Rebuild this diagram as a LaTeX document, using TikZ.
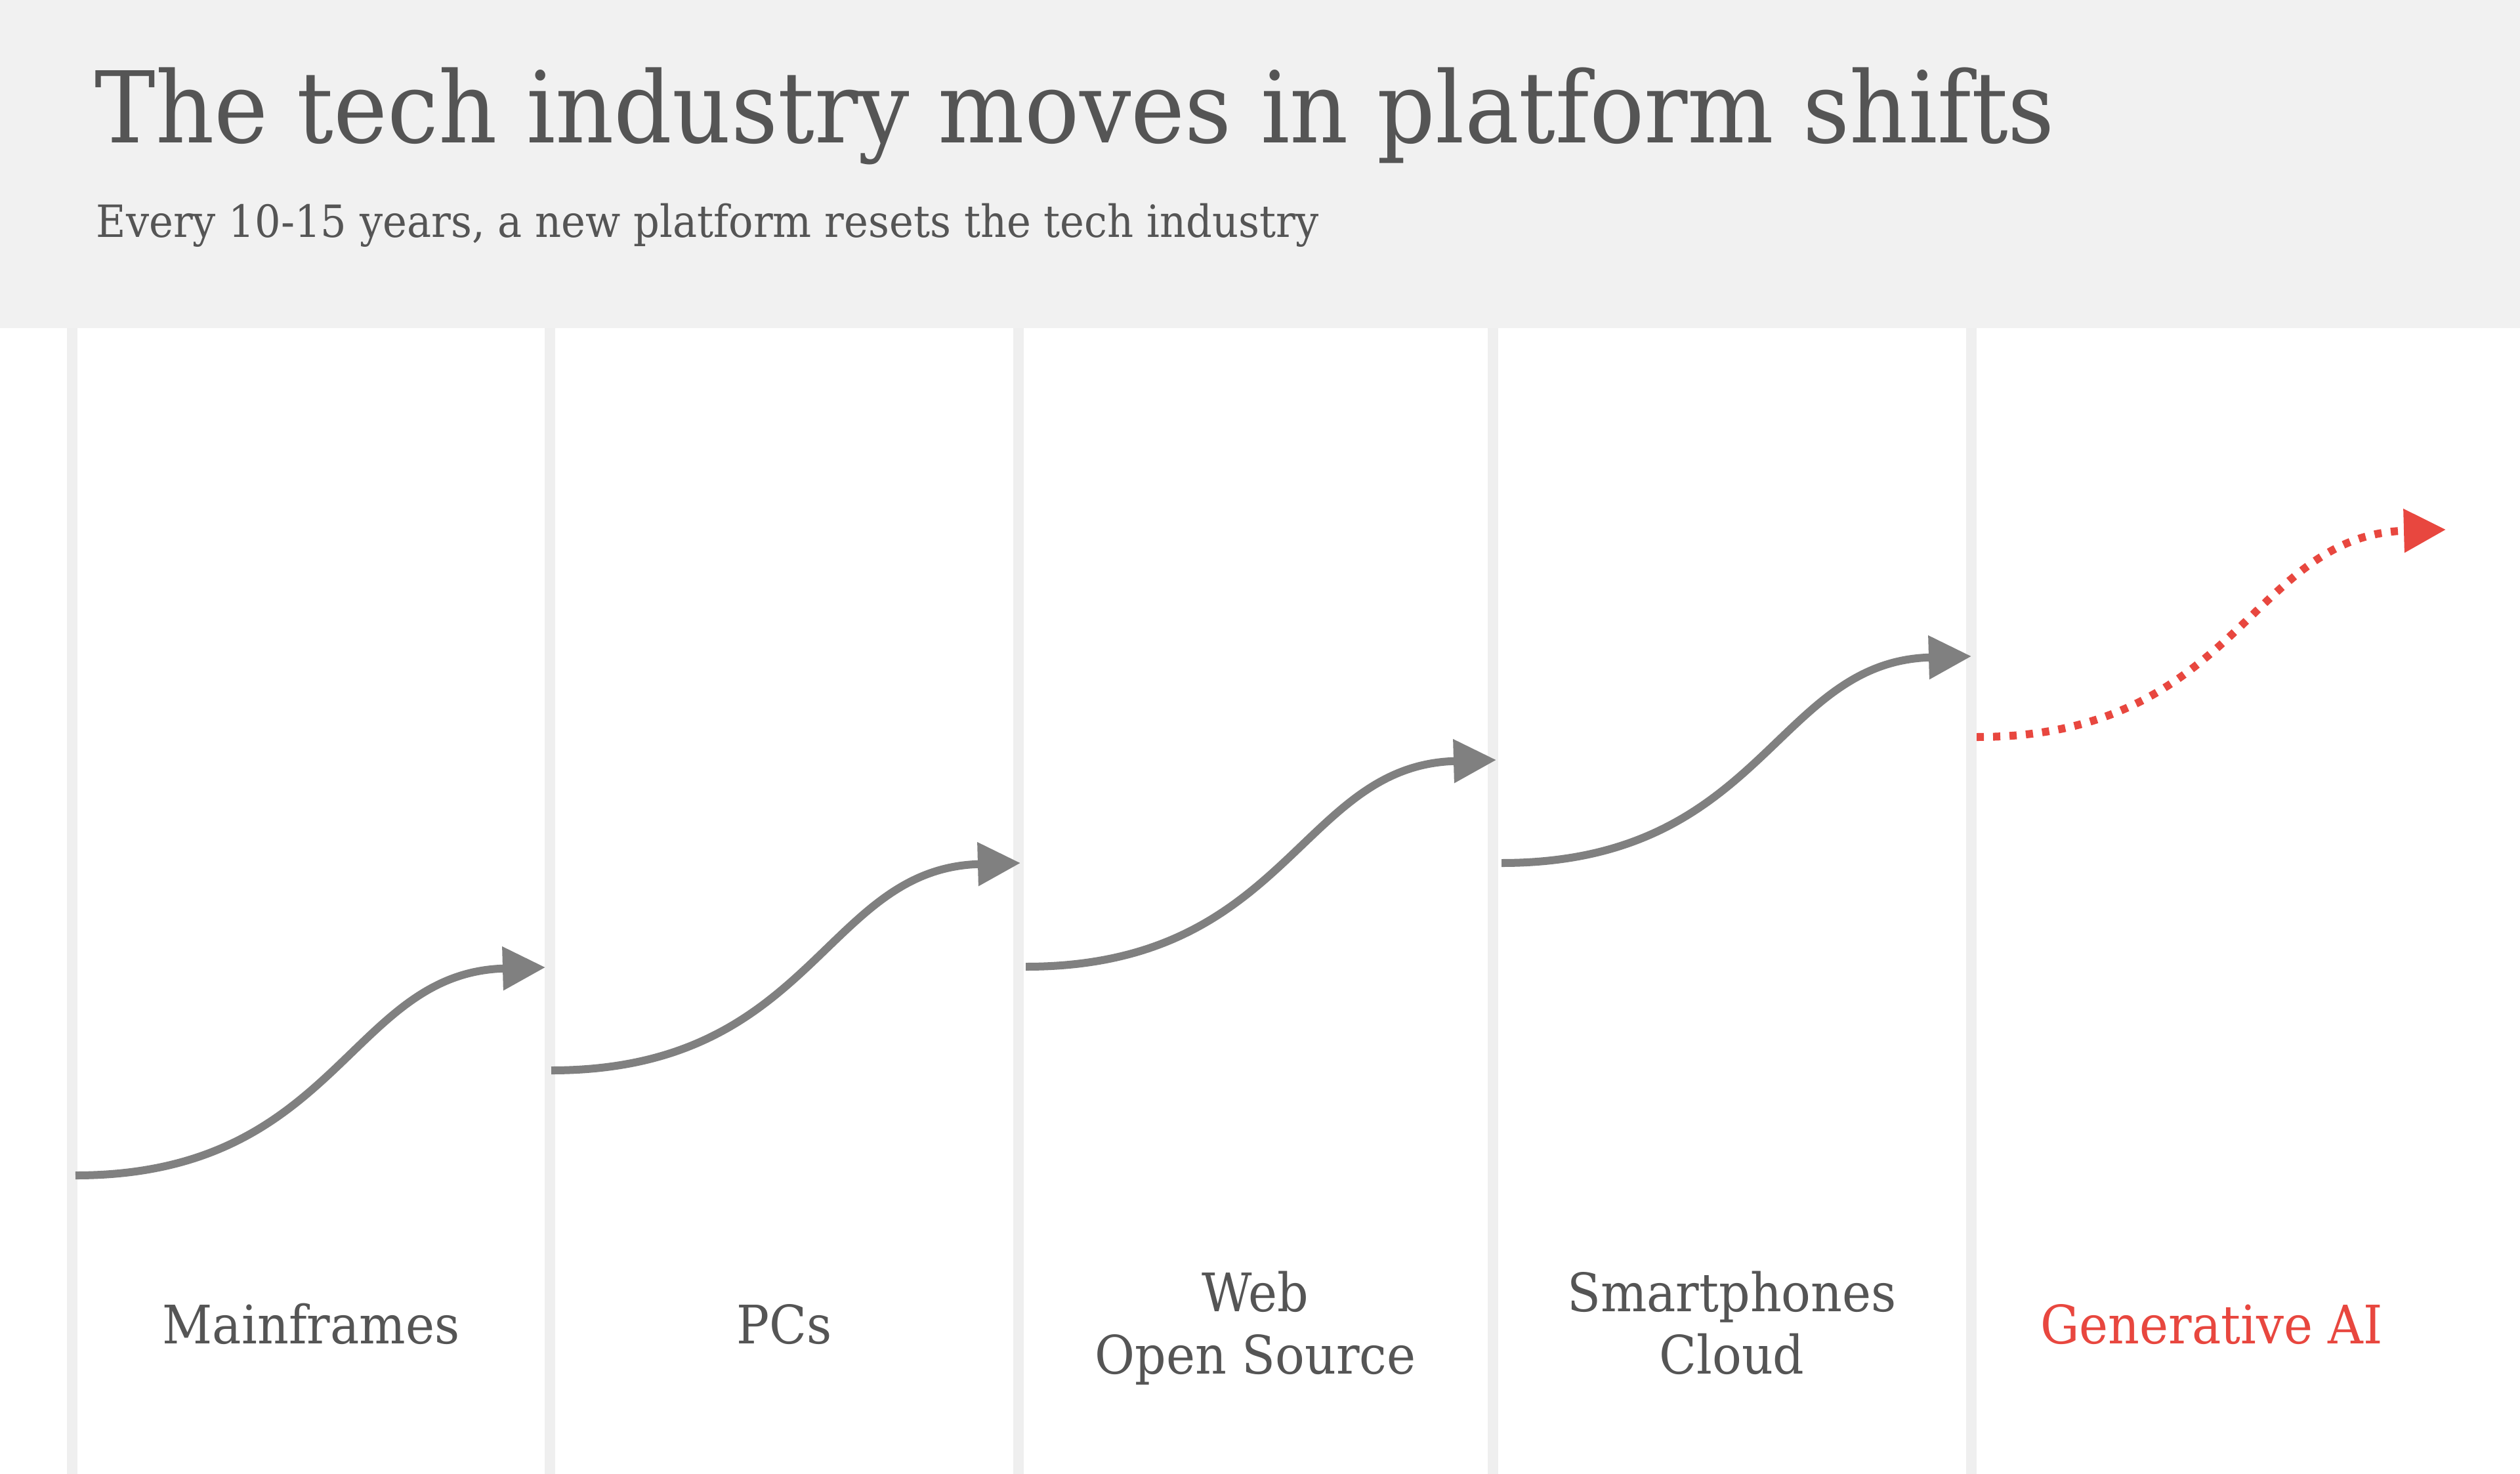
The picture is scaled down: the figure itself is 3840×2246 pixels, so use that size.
\documentclass[tikz,border=0pt]{standalone}
\usepackage{fontspec}
\setmainfont{DejaVu Serif}[FakeStretch=0.92]
\usetikzlibrary{arrows.meta,calc}
\definecolor{hdrbg}{HTML}{F1F1F1}
\definecolor{colline}{HTML}{EFEFEF}
\definecolor{arrgray}{HTML}{808080}
\definecolor{txtgray}{HTML}{555555}
\definecolor{aired}{HTML}{E8473F}
\tikzset{
  sepline/.style={draw=colline, line width=0.16cm},
  shiftcurve/.style={draw=arrgray, line width=0.12cm, -{Triangle[length=0.65cm,width=0.64cm]}},
  futurecurve/.style={draw=aired, line width=0.12cm, dash pattern=on 0.11cm off 0.14cm, -{Triangle[length=0.64cm,width=0.64cm]}},
  lbl/.style={text=txtgray, font=\fontsize{23pt}{27pt}\selectfont, align=center, inner sep=0pt, anchor=base},
}
\begin{document}
\begin{tikzpicture}[x=0.01cm,y=-0.01cm]
\useasboundingbox (0,0) rectangle (3840,2246);
\fill[white] (0,0) rectangle (3840,2246);
\fill[hdrbg] (0,0) rectangle (3840,500);
% column separators
\foreach \n/\xx in {a/110,b/838,c/1552,d/2275,e/3004}{
  \coordinate (top\n) at (\xx,500);
  \coordinate (bot\n) at (\xx,2246);
  \draw[sepline] (top\n) -- (bot\n);
}
% title
\node[anchor=base west, inner sep=0pt, text=txtgray, font=\fontsize{42.9pt}{52pt}\selectfont] (title) at (144,218) {The tech industry moves in platform shifts};
\node[anchor=base west, inner sep=0pt, text=txtgray, font=\fontsize{19.25pt}{24pt}\selectfont] (subtitle) at (146,362) {Every 10-15 years, a new platform resets the tech industry};
% curves
\coordinate (s1) at (115,1791); \coordinate (t1) at (831,1474);
\coordinate (s2) at (840,1631); \coordinate (t2) at (1555,1315);
\coordinate (s3) at (1563,1473); \coordinate (t3) at (2280,1158);
\coordinate (s4) at (2288,1315); \coordinate (t4) at (3004,1000);
\coordinate (s5) at (3012,1123); \coordinate (t5) at (3727,807);
\foreach \i in {1,2,3,4}{
  \draw[shiftcurve] (s\i) .. controls ($(s\i)+(400,0)$) and ($(t\i)+(-300,8)$) .. (t\i);
}
\draw[futurecurve] (s5) .. controls ($(s5)+(400,0)$) and ($(t5)+(-300,8)$) .. (t5);
% labels
\node[lbl] (mainframes) at (474,2047) {Mainframes};
\node[lbl] (pcs) at (1195,2047) {PCs};
\node[lbl] (web) at (1913,2093) {Web\\Open Source};
\node[lbl] (smart) at (2639,2093) {Smartphones\\Cloud};
\node[lbl, text=aired] (genai) at (3370,2047) {Generative AI};
\end{tikzpicture}
\end{document}
